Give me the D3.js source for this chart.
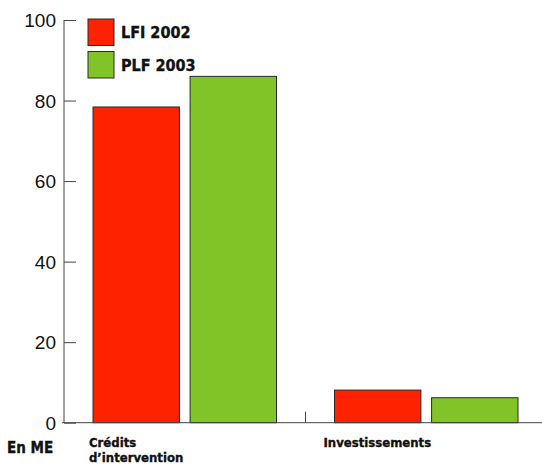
<!DOCTYPE html>
<html>
<head>
<meta charset="utf-8">
<script src="https://cdn.jsdelivr.net/npm/d3@7"></script>
<style>
  html, body { margin: 0; padding: 0; background: #fff; }
  svg { display: block; }
  .tick-label { font-family: "Liberation Sans", Arial, sans-serif; font-size: 19px; fill: #111; }
  .bold-label { font-family: "DejaVu Sans Condensed", "DejaVu Sans", sans-serif; font-weight: bold; fill: #111; stroke: #111; stroke-width: 0.35px; }
</style>
</head>
<body>
<svg id="chart" width="542" height="466"></svg>
<script>
// Budget lines (millions of euros)
const categories = ["Crédits\nd’intervention", "Investissements"];
const seriesNames = ["LFI 2002", "PLF 2003"];
const lfi2002 = [78.4, 8.1];
const plf2003 = [86.0, 6.2];
const yTicks = [0, 20, 40, 60, 80, 100];
const colors = ["#ff2200", "#80c428"];

const svg = d3.select("#chart");
const axisX = 64;
const baseY = 422.7;
const topY = 20;

const y = d3.scaleLinear().domain([0, 100]).range([baseY, topY]);
const x0 = d3.scaleBand().domain(categories).range([axisX, 547]).paddingInner(0).paddingOuter(0);
const x1 = d3.scaleBand().domain(seriesNames).range([29, x0.bandwidth() - 29]).paddingInner(0.11);

const values = [lfi2002, plf2003];

// Bars
const groups = svg.selectAll("g.group")
  .data(categories)
  .join("g")
  .attr("class", "group")
  .attr("transform", d => `translate(${x0(d)},0)`);

groups.selectAll("rect")
  .data((c, ci) => seriesNames.map((s, si) => ({ s, v: values[si][ci], si })))
  .join("rect")
  .attr("x", d => x1(d.s))
  .attr("width", x1.bandwidth())
  .attr("y", d => y(d.v))
  .attr("height", d => baseY - y(d.v))
  .attr("fill", d => colors[d.si])
  .attr("stroke", "#2a2a2a")
  .attr("stroke-width", 1);

// Vertical axis with inward ticks
const yAxis = d3.axisRight(y).tickValues(yTicks).tickSize(12).tickFormat("");
const ya = svg.append("g").attr("transform", `translate(${axisX},0)`).call(yAxis);
ya.select(".domain").attr("d", `M0,${topY}V${baseY}`).attr("stroke", "#444");
ya.selectAll(".tick line").attr("stroke", "#444");

svg.selectAll("text.tick-label")
  .data(yTicks)
  .join("text")
  .attr("class", "tick-label")
  .attr("x", 56)
  .attr("y", d => y(d) + 7)
  .attr("text-anchor", "end")
  .text(d => d);

// Baseline and group separator
svg.append("line")
  .attr("x1", 62).attr("x2", 542)
  .attr("y1", baseY).attr("y2", baseY)
  .attr("stroke", "#444");
svg.append("line")
  .attr("x1", x0(categories[1])).attr("x2", x0(categories[1]))
  .attr("y1", baseY - 11).attr("y2", baseY)
  .attr("stroke", "#444");

// Category labels, set slightly left of the first bar of each group
const labelShift = [-4, -11];
categories.forEach((c, ci) => {
  const lx = x0(c) + x1(seriesNames[0]) + labelShift[ci];
  const t = svg.append("text")
    .attr("class", "bold-label")
    .attr("font-size", 13)
    .attr("x", lx)
    .attr("y", 447);
  c.split("\n").forEach((line, i) => {
    t.append("tspan")
      .attr("x", lx)
      .attr("dy", i === 0 ? 0 : 15)
      .text(line);
  });
});

// Unit label
svg.append("text")
  .attr("class", "bold-label")
  .attr("font-size", 15)
  .attr("x", 7)
  .attr("y", 453)
  .text("En ME");

// Legend
seriesNames.forEach((s, i) => {
  const ly = 19 + i * 32.5;
  svg.append("rect")
    .attr("x", 88).attr("y", ly)
    .attr("width", 26).attr("height", 26.5)
    .attr("fill", colors[i])
    .attr("stroke", "#2a2a2a");
  svg.append("text")
    .attr("class", "bold-label")
    .attr("font-size", 16)
    .attr("x", 121)
    .attr("y", ly + 19)
    .text(s);
});
</script>
</body>
</html>
